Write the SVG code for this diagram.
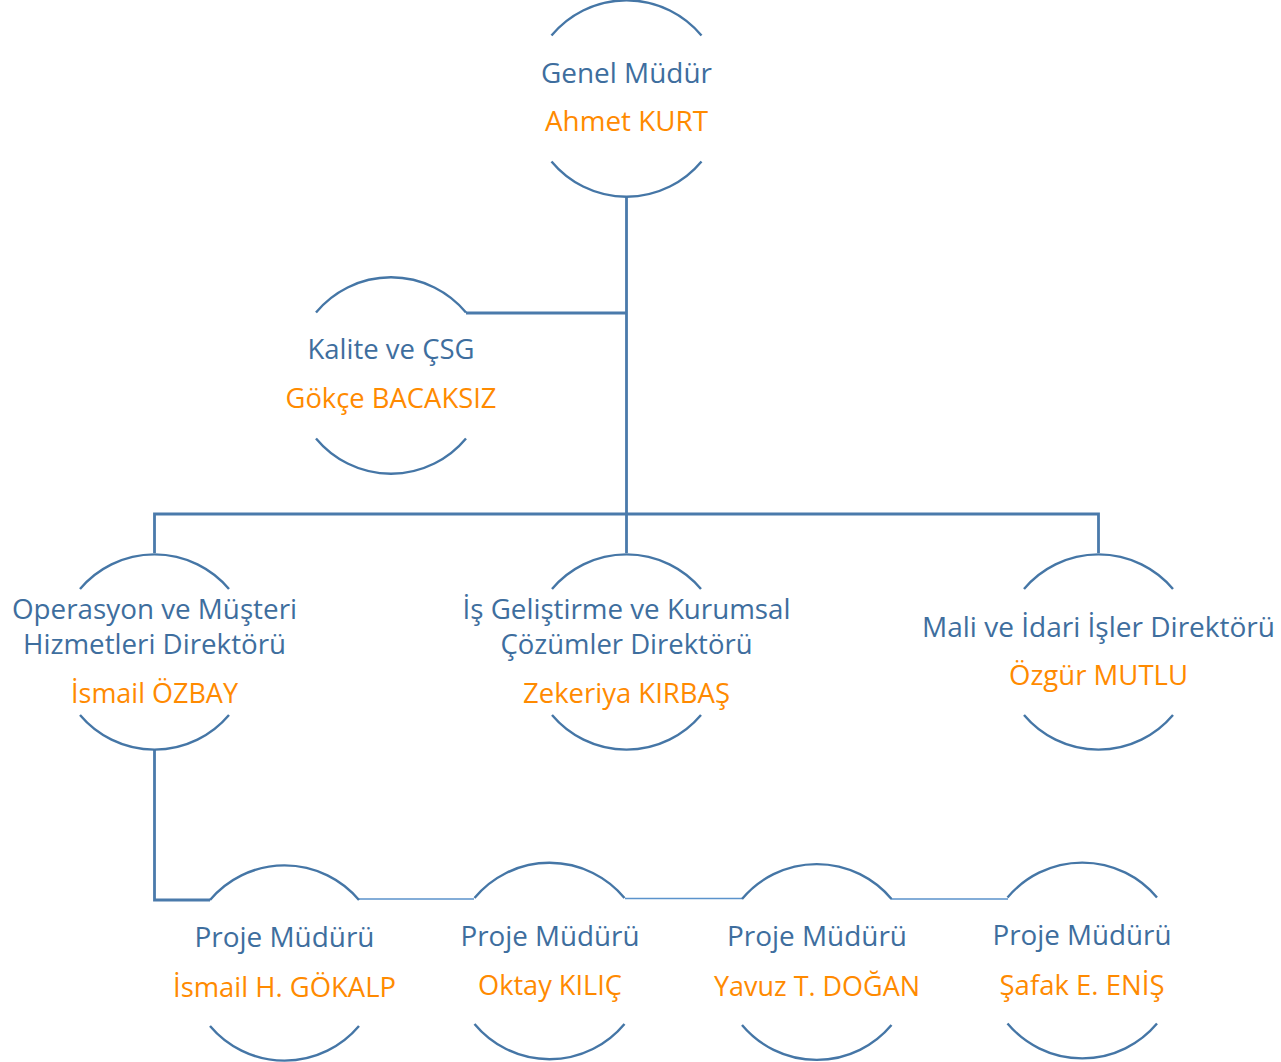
<svg xmlns="http://www.w3.org/2000/svg" width="1281" height="1062" viewBox="0 0 1281 1062">
<style>
.arc{fill:none;stroke:#4576A6;stroke-width:2.4}
.con{fill:none;stroke:#4A7AAB;stroke-width:2.8}
.thin{fill:none;stroke:#5B93CC;stroke-width:1.6}
.t{font-family:"Open Sans","Noto Sans",sans-serif;font-size:27px;text-anchor:middle;fill:#3E6E9E}
.n{font-family:"Open Sans","Noto Sans",sans-serif;font-size:27px;text-anchor:middle;fill:#FF8A00}
</style>
<g id="connectors">
<path class="con" d="M626.5,196 V514 M626.5,313 H466 M154.5,553 V514 H1098.5 V553 M626.5,514 V553"/>
<path class="con" d="M154.5,750 V900 H210"/>
<path class="thin" d="M359,899 H474 M625,898.5 H742 M891,899 H1008"/>
</g>
<g id="n-genel">
<path class="arc" d="M551.5,35.5 A97.5 97.5 0 0 1 701.5,35.5 M551.5,161.5 A97.5 97.5 0 0 0 701.5,161.5"/>
<text class="t" x="626.5" y="83" textLength="171" lengthAdjust="spacingAndGlyphs">Genel Müdür</text>
<text class="n" x="626.5" y="131" textLength="163" lengthAdjust="spacingAndGlyphs">Ahmet KURT</text>
</g>
<g id="n-kalite">
<path class="arc" d="M316,312.5 A97.5 97.5 0 0 1 466,312.5 M316,438.5 A97.5 97.5 0 0 0 466,438.5"/>
<text class="t" x="391" y="359" textLength="167" lengthAdjust="spacingAndGlyphs">Kalite ve ÇSG</text>
<text class="n" x="391" y="408" textLength="211" lengthAdjust="spacingAndGlyphs">Gökçe BACAKSIZ</text>
</g>
<g id="n-operasyon">
<path class="arc" d="M80,589 A97.5 97.5 0 0 1 229,589 M80,715 A97.5 97.5 0 0 0 229,715"/>
<text class="t" x="154.5" y="619" textLength="285" lengthAdjust="spacingAndGlyphs">Operasyon ve Müşteri</text>
<text class="t" x="154.5" y="654" textLength="263" lengthAdjust="spacingAndGlyphs">Hizmetleri Direktörü</text>
<text class="n" x="154.5" y="703" textLength="167" lengthAdjust="spacingAndGlyphs">İsmail ÖZBAY</text>
</g>
<g id="n-isgelistirme">
<path class="arc" d="M552,589 A97.5 97.5 0 0 1 701,589 M552,715 A97.5 97.5 0 0 0 701,715"/>
<text class="t" x="626.5" y="619" textLength="328" lengthAdjust="spacingAndGlyphs">İş Geliştirme ve Kurumsal</text>
<text class="t" x="626.5" y="654" textLength="252" lengthAdjust="spacingAndGlyphs">Çözümler Direktörü</text>
<text class="n" x="626.5" y="703" textLength="207" lengthAdjust="spacingAndGlyphs">Zekeriya KIRBAŞ</text>
</g>
<g id="n-mali">
<path class="arc" d="M1024,589 A97.5 97.5 0 0 1 1173,589 M1024,715 A97.5 97.5 0 0 0 1173,715"/>
<text class="t" x="1098.5" y="637" textLength="353" lengthAdjust="spacingAndGlyphs">Mali ve İdari İşler Direktörü</text>
<text class="n" x="1098.5" y="685" textLength="179" lengthAdjust="spacingAndGlyphs">Özgür MUTLU</text>
</g>
<g id="n-proje1">
<path class="arc" d="M210,900 A97.5 97.5 0 0 1 359,900 M210,1026 A97.5 97.5 0 0 0 359,1026"/>
<text class="t" x="284.5" y="947" textLength="180" lengthAdjust="spacingAndGlyphs">Proje Müdürü</text>
<text class="n" x="284.5" y="997" textLength="223" lengthAdjust="spacingAndGlyphs">İsmail H. GÖKALP</text>
</g>
<g id="n-proje2">
<path class="arc" d="M474.5,898 A97.5 97.5 0 0 1 624.5,898 M474.5,1024 A97.5 97.5 0 0 0 624.5,1024"/>
<text class="t" x="550" y="946" textLength="179" lengthAdjust="spacingAndGlyphs">Proje Müdürü</text>
<text class="n" x="550" y="995" textLength="144" lengthAdjust="spacingAndGlyphs">Oktay KILIÇ</text>
</g>
<g id="n-proje3">
<path class="arc" d="M742,899 A97.5 97.5 0 0 1 891.5,899 M742,1025 A97.5 97.5 0 0 0 891.5,1025"/>
<text class="t" x="817" y="946" textLength="180" lengthAdjust="spacingAndGlyphs">Proje Müdürü</text>
<text class="n" x="817" y="996" textLength="206" lengthAdjust="spacingAndGlyphs">Yavuz T. DOĞAN</text>
</g>
<g id="n-proje4">
<path class="arc" d="M1007.5,897.5 A97.5 97.5 0 0 1 1157,897.5 M1007.5,1023.5 A97.5 97.5 0 0 0 1157,1023.5"/>
<text class="t" x="1082" y="945" textLength="179" lengthAdjust="spacingAndGlyphs">Proje Müdürü</text>
<text class="n" x="1082" y="995" textLength="165" lengthAdjust="spacingAndGlyphs">Şafak E. ENİŞ</text>
</g>
</svg>
